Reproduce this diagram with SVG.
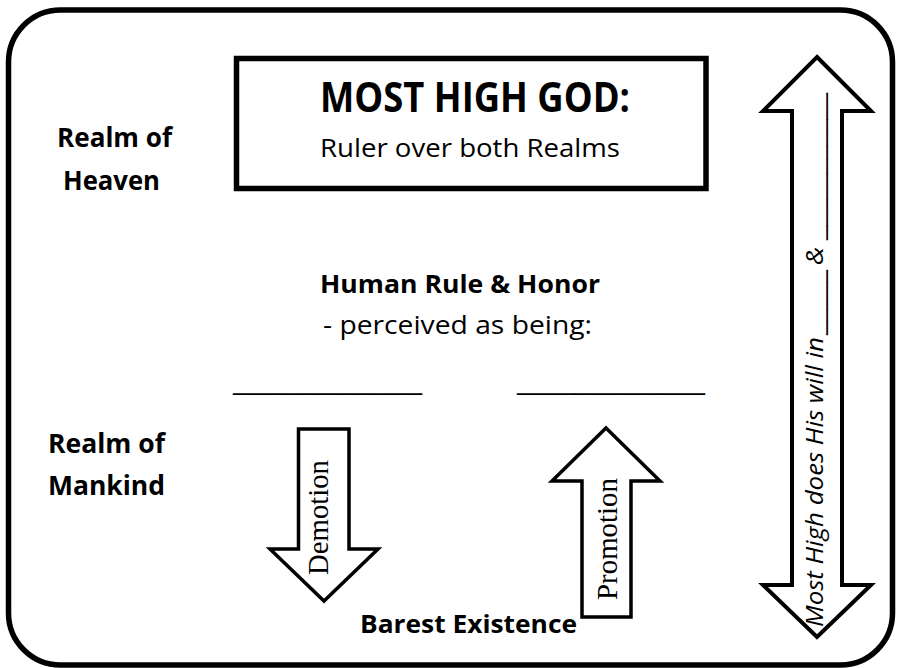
<svg xmlns="http://www.w3.org/2000/svg" width="901" height="668" viewBox="0 0 901 668">
<style>
.sans{font-family:"Open Sans",Lato,"Liberation Sans",sans-serif;fill:#000}
.b{font-weight:bold}
.line{font-family:"DejaVu Sans","Liberation Sans",sans-serif;fill:#000}
.serif{font-family:"Liberation Serif","Times New Roman",serif;fill:#000}
.arrow{fill:#fff;stroke:#000;stroke-linejoin:miter}
</style>
<rect x="0" y="0" width="901" height="668" fill="#fff"/>
<g id="frame">
<rect x="8.5" y="10" width="884" height="655" rx="52" ry="52" fill="#fff" stroke="#000" stroke-width="5.5"/>
</g>
<g id="realm-heaven">
<text class="sans b" x="57" y="147" font-size="26" textLength="115" lengthAdjust="spacingAndGlyphs">Realm of</text>
<text class="sans b" x="63" y="190" font-size="26" textLength="97" lengthAdjust="spacingAndGlyphs">Heaven</text>
</g>
<g id="realm-mankind">
<text class="sans b" x="48" y="453" font-size="26" textLength="117" lengthAdjust="spacingAndGlyphs">Realm of</text>
<text class="sans b" x="48" y="495" font-size="26" textLength="117" lengthAdjust="spacingAndGlyphs">Mankind</text>
</g>
<g id="most-high-god">
<rect x="236.5" y="58.5" width="469.5" height="130" fill="#fff" stroke="#000" stroke-width="5.5"/>
<text class="sans b" x="320" y="112" font-size="41" textLength="310" lengthAdjust="spacingAndGlyphs">MOST HIGH GOD:</text>
<text class="sans" x="320" y="157" font-size="25.5" textLength="300" lengthAdjust="spacingAndGlyphs">Ruler over both Realms</text>
</g>
<g id="human-rule">
<text class="sans b" x="320" y="293" font-size="25.5" textLength="280" lengthAdjust="spacingAndGlyphs">Human Rule &amp; Honor</text>
<text class="sans" x="323" y="334" font-size="26" textLength="269" lengthAdjust="spacingAndGlyphs">- perceived as being:</text>
<text class="line" x="233" y="389" font-size="25" textLength="189" lengthAdjust="spacingAndGlyphs">_____________</text>
<text class="line" x="517" y="389" font-size="25" textLength="188" lengthAdjust="spacingAndGlyphs">_____________</text>
</g>
<g id="connectors">
<g id="demotion">
<path class="arrow" stroke-width="3.5" d="M298.5,429 L349,429 L349,549 L378,549 L324,601 L270,549 L298.5,549 Z"/>
<text class="serif" font-size="29" transform="translate(328,575) rotate(-90)" x="0" y="0" textLength="115" lengthAdjust="spacingAndGlyphs">Demotion</text>
</g>
<g id="promotion">
<path class="arrow" stroke-width="3.5" d="M606,428 L660,481 L631,481 L631,617 L582,617 L582,481 L552,481 Z"/>
<text class="serif" font-size="29" transform="translate(617,600) rotate(-90)" x="0" y="0" textLength="122" lengthAdjust="spacingAndGlyphs">Promotion</text>
</g>
<g id="sovereign-arrow">
<path class="arrow" stroke-width="4" d="M817,57 L871,111 L842,111 L842,585 L871,585 L817,637 L763,585 L792,585 L792,111 L763,111 Z"/>
<g transform="translate(823,627) rotate(-90)">
<text class="sans" font-style="italic" font-size="24.5" x="0" y="0" textLength="290" lengthAdjust="spacingAndGlyphs">Most High does His will in</text>
<text class="line" font-size="24" x="292" y="-1" textLength="65" lengthAdjust="spacingAndGlyphs">_____</text>
<text class="sans" font-style="italic" font-size="24.5" x="362" y="0" textLength="18" lengthAdjust="spacingAndGlyphs">&amp;</text>
<text class="line" font-size="24" x="387" y="-1" textLength="147" lengthAdjust="spacingAndGlyphs">___________</text>
</g>
</g>
</g>
<g id="barest-existence">
<text class="sans b" x="360" y="633" font-size="25.5" textLength="217" lengthAdjust="spacingAndGlyphs">Barest Existence</text>
</g>
</svg>
